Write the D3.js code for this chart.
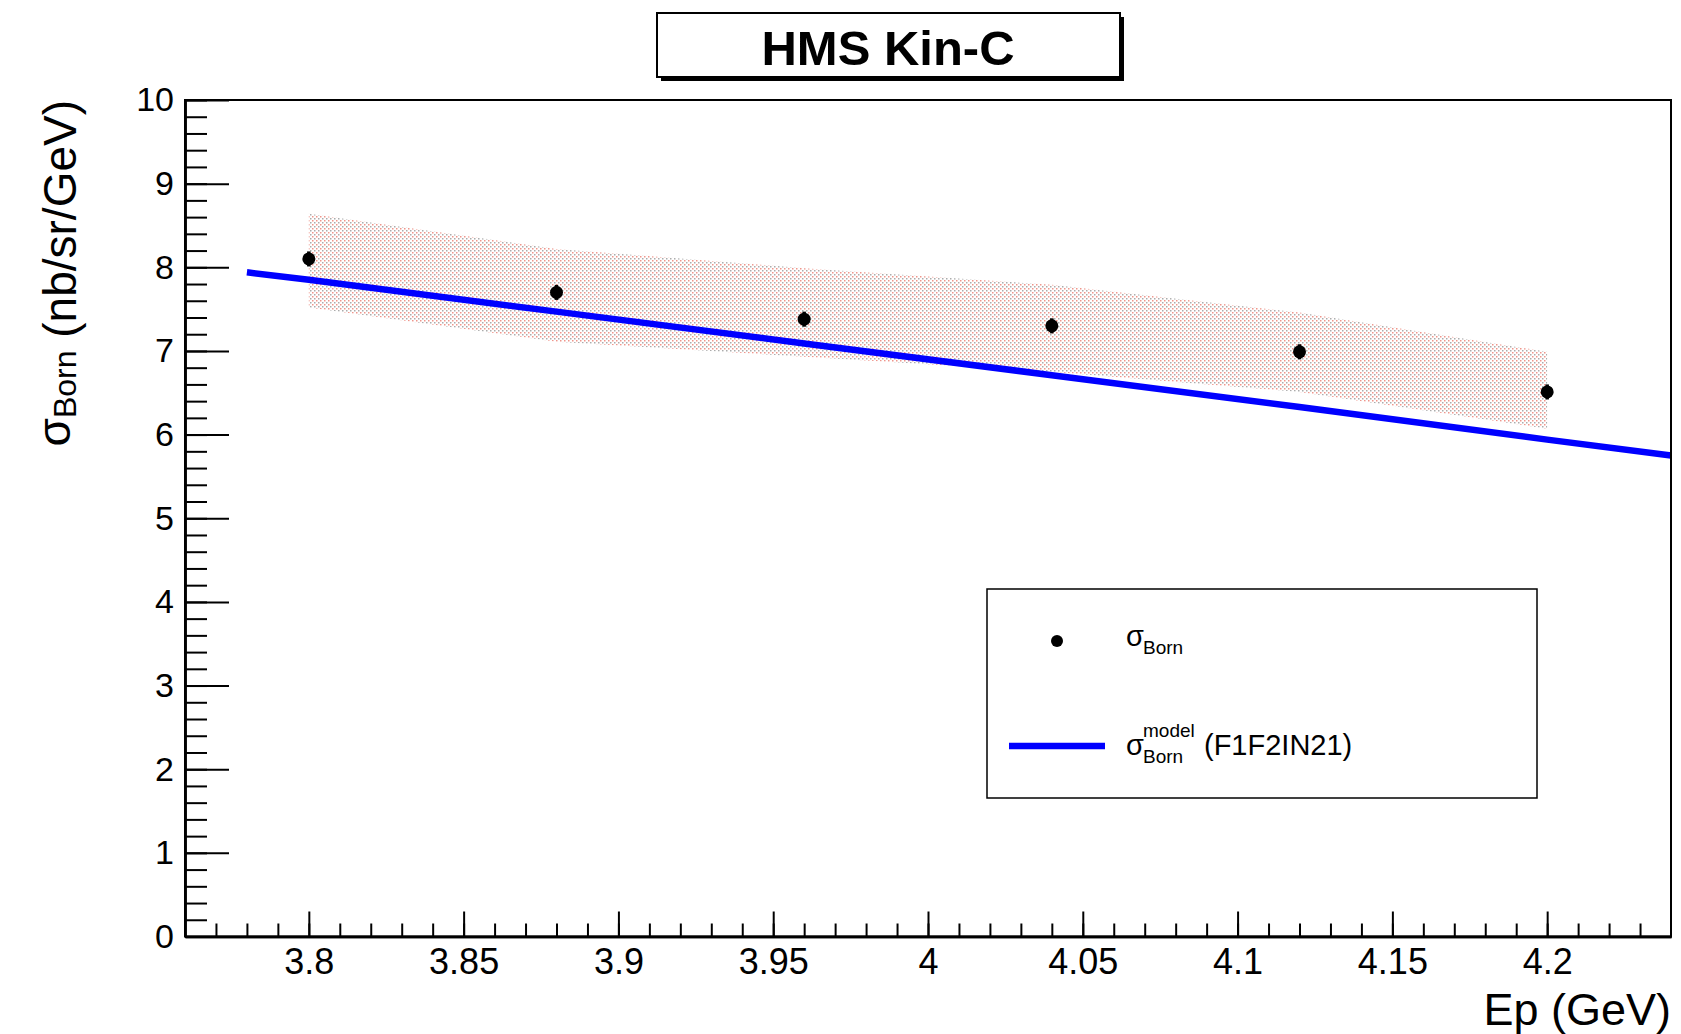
<!DOCTYPE html>
<html>
<head>
<meta charset="utf-8">
<script src="https://cdn.jsdelivr.net/npm/d3@7"></script>
<style>
  body { margin:0; background:#fff; }
  svg { display:block; font-family:"Liberation Sans", Arial, sans-serif; }
</style>
</head>
<body>
<svg id="chart" width="1681" height="1034"></svg>
<script>
// data
const ep        = [3.80, 3.88, 3.96, 4.04, 4.12, 4.20];
const sigBorn   = [8.10, 7.70, 7.38, 7.30, 6.99, 6.51];
const sigErr    = [0.09, 0.09, 0.09, 0.09, 0.09, 0.09];
const bandLow   = [7.52, 7.11, 6.93, 6.75, 6.51, 6.07];
const bandHigh  = [8.64, 8.22, 7.99, 7.79, 7.46, 6.99];
const modelEp   = [3.78, 3.80, 3.88, 3.96, 4.04, 4.12, 4.20, 4.24];
const modelSig  = [7.94, 7.85, 7.47, 7.09, 6.71, 6.33, 5.94, 5.75];
const xMajor    = [3.8, 3.85, 3.9, 3.95, 4, 4.05, 4.1, 4.15, 4.2];
const yMajor    = [0,1,2,3,4,5,6,7,8,9,10];

const svg = d3.select("#chart");
const x = d3.scaleLinear().domain([3.76, 4.24]).range([185, 1671]);
const y = d3.scaleLinear().domain([0, 10]).range([936.5, 100]);

// dotted fill like the ROOT hatch (red + grey dots)
const defs = svg.append("defs");
const pat = defs.append("pattern").attr("id","dots")
  .attr("patternUnits","userSpaceOnUse").attr("width",4).attr("height",4);
pat.append("rect").attr("x",0).attr("y",0).attr("width",1.5).attr("height",1.5).attr("fill","#ec8276");
pat.append("rect").attr("x",2).attr("y",2).attr("width",1.5).attr("height",1.5).attr("fill","#9c9c9c");

// band
const bandData = ep.map((e,i)=>({x:e, lo:bandLow[i], hi:bandHigh[i]}));
svg.append("path").datum(bandData)
  .attr("d", d3.area().x(d=>x(d.x)).y0(d=>y(d.lo)).y1(d=>y(d.hi)))
  .attr("fill","url(#dots)").attr("opacity",0.85);

// model line
const modelData = modelEp.map((e,i)=>({x:e, v:modelSig[i]}));
svg.append("path").datum(modelData)
  .attr("d", d3.line().x(d=>x(d.x)).y(d=>y(d.v)))
  .attr("fill","none").attr("stroke","#0000ff").attr("stroke-width",6.5);

// points with small errors
const pts = ep.map((e,i)=>({x:e, v:sigBorn[i], err:sigErr[i]}));
svg.selectAll("line.err").data(pts).enter().append("line").attr("class","err")
  .attr("x1",d=>x(d.x)).attr("x2",d=>x(d.x))
  .attr("y1",d=>y(d.v-d.err)).attr("y2",d=>y(d.v+d.err))
  .attr("stroke","#000").attr("stroke-width",3.5);
svg.selectAll("circle.pt").data(pts).enter().append("circle").attr("class","pt")
  .attr("cx",d=>x(d.x)).attr("cy",d=>y(d.v)).attr("r",6.5).attr("fill","#000");

// frame
svg.append("rect").attr("x",x(3.76)).attr("y",y(10))
  .attr("width",x(4.24)-x(3.76)).attr("height",y(0)-y(10))
  .attr("fill","none").attr("stroke","#000").attr("stroke-width",2);

// x axis
const xMinor = d3.range(377, 424).map(v=>v/100);
svg.append("g").attr("transform","translate(0,"+y(0)+")")
  .call(d3.axisBottom(x).tickValues(xMinor).tickSizeInner(-13).tickSizeOuter(0).tickFormat(""));
const gx = svg.append("g").attr("transform","translate(0,"+y(0)+")")
  .call(d3.axisBottom(x).tickValues(xMajor).tickSizeInner(-25).tickSizeOuter(0).tickPadding(12)
        .tickFormat(d=>d3.format("")(+d.toFixed(2))));
gx.selectAll("text").attr("font-size",36).attr("fill","#000").attr("font-family","Liberation Sans, Arial");

// y axis
const yMinor = d3.range(0, 51).map(v=>v/5);
svg.append("g").attr("transform","translate("+x(3.76)+",0)")
  .call(d3.axisLeft(y).tickValues(yMinor).tickSizeInner(-22).tickSizeOuter(0).tickFormat(""));
const gy = svg.append("g").attr("transform","translate("+x(3.76)+",0)")
  .call(d3.axisLeft(y).tickValues(yMajor).tickSizeInner(-44).tickSizeOuter(0).tickPadding(11));
gy.selectAll("text").attr("font-size",34).attr("fill","#000").attr("font-family","Liberation Sans, Arial");

svg.selectAll(".tick line").attr("stroke","#000").attr("stroke-width",2);
svg.selectAll(".domain").attr("stroke","#000").attr("stroke-width",2.5);

// axis titles
svg.append("text").attr("x",1671).attr("y",1025).attr("text-anchor","end")
  .attr("font-size",45).text("Ep (GeV)");

const yt = svg.append("text").attr("transform","translate(76,100) rotate(-90)")
  .attr("text-anchor","end").attr("font-size",46);
yt.append("tspan").attr("dy",-6).text("σ");
yt.append("tspan").attr("font-size",32).attr("dy",6).text("Born");
yt.append("tspan").text(" (nb/sr/GeV)");

// title box
svg.append("rect").attr("x",661).attr("y",17).attr("width",463).attr("height",64).attr("fill","#000");
svg.append("rect").attr("x",657).attr("y",13).attr("width",463).attr("height",64)
  .attr("fill","#fff").attr("stroke","#000").attr("stroke-width",2);
svg.append("text").attr("x",888).attr("y",65).attr("text-anchor","middle")
  .attr("font-size",49).attr("font-weight","bold").text("HMS Kin-C");

// legend
svg.append("rect").attr("x",987).attr("y",589).attr("width",550).attr("height",209)
  .attr("fill","#fff").attr("stroke","#000").attr("stroke-width",1.5);
svg.append("circle").attr("cx",1057).attr("cy",641).attr("r",6).attr("fill","#000");
svg.append("text").attr("x",1126).attr("y",646).attr("font-size",29).text("σ");
svg.append("text").attr("x",1143).attr("y",654).attr("font-size",19).text("Born");

svg.append("line").attr("x1",1009).attr("x2",1105).attr("y1",746).attr("y2",746)
  .attr("stroke","#0000ff").attr("stroke-width",6.5);
svg.append("text").attr("x",1126).attr("y",755).attr("font-size",29).text("σ");
svg.append("text").attr("x",1143).attr("y",737).attr("font-size",19).text("model");
svg.append("text").attr("x",1143).attr("y",763).attr("font-size",19).text("Born");
svg.append("text").attr("x",1204).attr("y",755).attr("font-size",29).text("(F1F2IN21)");
</script>
</body>
</html>
